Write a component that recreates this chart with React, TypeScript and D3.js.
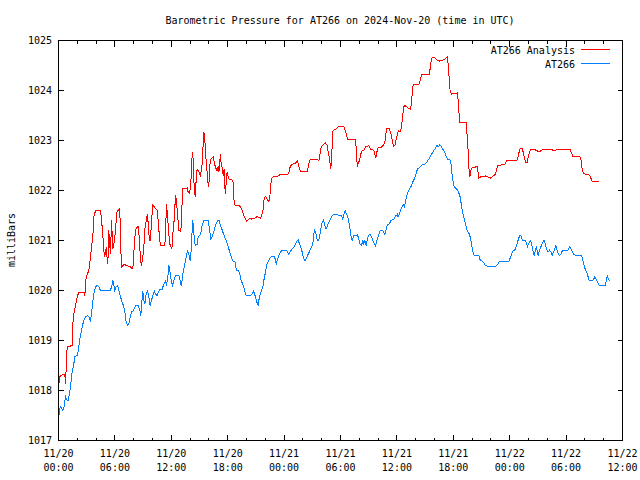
import React from "react";
import * as d3 from "d3";

// Hours after 2024-11-20 00:00 UTC
const analysisHours = [0,0.18,0.67,0.74,0.92,1.45,1.52,1.63,1.81,1.99,2.16,2.70,2.80,2.94,3.23,3.40,3.51,3.65,3.76,3.94,4.47,4.57,4.72,4.82,4.93,5.00,5.11,5.18,5.25,5.35,5.46,5.53,5.64,5.78,5.89,5.99,6.10,6.21,6.52,6.60,6.70,6.95,7.30,7.66,7.91,8.01,8.12,8.26,8.48,8.62,8.72,8.83,8.97,9.08,9.18,9.33,9.47,9.54,9.68,9.79,9.89,10.04,10.50,10.60,10.74,10.85,11.31,11.38,11.49,11.63,11.74,11.84,12.06,12.16,12.30,12.45,12.55,12.66,12.80,13.01,13.09,13.19,13.69,13.79,13.94,14.08,14.15,14.26,14.33,14.43,14.54,14.65,14.75,14.93,15.10,15.28,15.39,15.46,15.57,15.64,15.74,15.85,15.99,16.10,16.21,16.45,16.60,16.70,16.81,16.91,16.99,17.06,17.16,17.23,17.30,17.41,17.52,17.62,17.70,17.77,17.84,17.94,18.01,18.12,18.48,18.58,18.65,18.76,19.18,19.36,19.54,19.72,19.89,20.00,20.18,20.35,20.53,20.89,21.13,21.49,21.60,21.77,21.88,22.02,22.20,22.38,22.48,22.59,22.66,22.80,23.26,23.51,24.33,24.50,24.61,24.72,24.93,25.21,25.43,25.57,25.74,26.49,26.56,26.74,27.52,27.70,27.80,27.91,28.05,28.40,28.58,28.69,28.83,28.97,29.04,29.11,29.18,29.33,29.54,29.82,30.35,30.45,30.63,30.74,31.60,31.67,31.74,31.81,31.88,32.02,32.16,32.30,32.52,32.66,33.01,33.19,33.55,33.65,33.76,33.87,33.97,34.36,34.61,34.79,34.86,34.97,35.14,35.32,35.43,35.50,35.64,35.78,35.89,36.00,36.10,36.21,36.32,36.42,36.57,36.71,36.85,37.20,37.41,37.55,37.62,37.73,38.33,38.44,38.55,38.69,39.47,39.57,39.68,39.82,40.04,40.28,40.53,40.82,41.10,41.35,41.42,41.53,41.67,41.81,42.41,42.52,42.59,42.66,43.37,43.48,43.58,43.65,43.76,43.87,44.01,44.36,44.54,44.72,44.89,45.43,45.96,46.14,46.31,46.49,46.60,46.70,47.48,47.62,47.73,48.09,48.44,48.79,48.90,49.04,49.15,49.33,49.43,49.54,49.68,49.86,49.96,50.11,50.25,50.46,50.74,50.96,51.28,51.45,51.63,52.45,52.62,52.80,52.94,53.23,54.29,54.47,54.57,54.72,55.46,55.57,55.64,55.71,55.82,56.00,56.42,56.60,56.74,56.95,57.52];
const analysisValues = [1018.1,1018.3,1018.33,1018.13,1018.87,1018.9,1019.33,1019.53,1019.7,1019.87,1019.97,1019.97,1019.9,1020.27,1020.4,1020.67,1020.87,1021.07,1021.47,1021.6,1021.6,1021.43,1021.1,1020.8,1020.67,1020.8,1020.87,1020.6,1020.53,1021.2,1020.9,1020.73,1021.4,1020.83,1020.93,1021.07,1021.3,1021.57,1021.65,1021.0,1020.47,1020.52,1020.5,1020.47,1020.43,1020.73,1021.07,1021.25,1021.28,1021.0,1020.6,1020.5,1020.67,1020.87,1021.23,1021.4,1021.53,1021.33,1021.0,1021.0,1021.4,1021.7,1021.61,1021.4,1021.07,1020.9,1020.9,1021.13,1021.73,1021.4,1021.13,1020.93,1020.83,1021.13,1021.4,1021.9,1021.8,1021.53,1021.2,1021.18,1021.4,1022.03,1022.05,1021.97,1021.95,1022.13,1022.53,1022.77,1022.6,1022.07,1021.87,1022.23,1022.43,1022.37,1022.3,1022.53,1022.93,1023.17,1023.03,1022.67,1022.6,1022.2,1022.08,1022.5,1022.63,1022.67,1022.53,1022.47,1022.41,1022.4,1022.48,1022.37,1022.57,1022.73,1022.53,1022.47,1022.3,1022.43,1022.05,1021.93,1022.17,1022.37,1022.3,1022.23,1022.21,1022.17,1021.83,1021.71,1021.7,1021.67,1021.6,1021.5,1021.43,1021.38,1021.41,1021.45,1021.43,1021.45,1021.48,1021.45,1021.48,1021.63,1021.85,1021.88,1021.83,1021.77,1021.87,1022.12,1022.23,1022.27,1022.28,1022.31,1022.32,1022.35,1022.45,1022.5,1022.53,1022.55,1022.6,1022.48,1022.38,1022.38,1022.47,1022.61,1022.62,1022.6,1022.7,1022.85,1022.9,1022.95,1022.9,1022.77,1022.63,1022.43,1022.61,1022.87,1023.19,1023.21,1023.23,1023.28,1023.28,1023.23,1023.13,1023.03,1023.03,1022.83,1022.6,1022.47,1022.55,1022.6,1022.73,1022.8,1022.81,1022.87,1022.9,1022.83,1022.8,1022.72,1022.65,1022.77,1022.85,1022.87,1022.92,1023.03,1023.2,1023.25,1023.25,1023.17,1023.1,1023.0,1022.88,1022.9,1023.0,1023.08,1023.17,1023.2,1023.17,1023.2,1023.4,1023.67,1023.7,1023.65,1023.63,1023.73,1023.93,1024.12,1024.12,1024.17,1024.27,1024.33,1024.33,1024.5,1024.63,1024.67,1024.65,1024.61,1024.59,1024.6,1024.63,1024.67,1024.6,1024.33,1023.97,1023.93,1023.95,1023.8,1023.6,1023.37,1023.37,1023.07,1022.8,1022.47,1022.28,1022.4,1022.45,1022.47,1022.48,1022.25,1022.27,1022.29,1022.25,1022.27,1022.3,1022.33,1022.41,1022.5,1022.52,1022.57,1022.61,1022.6,1022.59,1022.61,1022.68,1022.8,1022.85,1022.85,1022.77,1022.67,1022.57,1022.57,1022.67,1022.77,1022.83,1022.83,1022.81,1022.79,1022.79,1022.81,1022.83,1022.83,1022.8,1022.79,1022.81,1022.83,1022.83,1022.81,1022.75,1022.68,1022.68,1022.63,1022.53,1022.43,1022.35,1022.33,1022.32,1022.27,1022.19,1022.18,1022.18];

const obsHours = [0,0.18,0.32,0.46,0.60,0.74,0.89,1.03,1.17,1.31,1.45,1.63,1.74,2.02,2.16,2.27,2.41,2.55,2.70,2.87,3.09,3.23,3.40,3.51,3.65,3.76,3.94,4.11,4.29,4.47,5.53,5.71,5.78,5.89,5.99,6.13,6.28,6.42,6.60,6.77,6.95,7.09,7.20,7.34,7.48,7.62,7.77,7.98,8.19,8.48,8.65,8.76,8.87,8.97,9.08,9.18,9.33,9.47,9.61,9.75,9.89,10.04,10.18,10.32,10.50,10.67,10.85,11.03,11.21,11.38,11.49,11.63,11.74,11.84,11.99,12.13,12.27,12.45,12.80,12.94,13.05,13.16,13.26,13.44,13.58,13.72,13.87,14.01,14.11,14.22,14.29,14.40,14.54,14.75,14.86,15.00,15.14,15.21,15.35,15.46,15.92,15.99,16.10,16.21,16.35,16.45,16.60,16.70,16.81,16.95,17.06,17.16,17.30,17.41,17.52,17.66,17.77,17.87,18.01,18.12,18.22,18.33,18.44,18.55,18.76,18.83,18.94,19.18,19.29,19.39,19.54,19.72,19.82,19.96,20.43,20.60,20.74,20.89,21.03,21.17,21.24,21.31,21.45,21.60,21.74,21.84,21.95,22.06,22.16,22.31,22.45,22.59,22.80,22.98,23.09,23.16,23.30,23.44,23.62,23.79,24.15,24.33,24.50,24.68,24.86,25.07,25.21,25.39,25.50,25.64,25.78,25.92,26.10,26.21,26.35,26.49,26.63,26.81,26.99,27.09,27.20,27.27,27.41,27.52,27.70,27.80,27.94,28.05,28.19,28.33,28.47,28.62,28.76,28.93,29.11,29.29,29.65,29.82,30.10,30.24,30.38,30.49,30.63,30.77,30.88,31.02,31.13,31.24,31.31,31.42,31.81,31.95,32.06,32.23,32.38,32.48,32.59,32.73,32.87,33.01,33.16,33.30,33.44,33.58,33.72,33.87,34.01,34.15,34.29,34.43,34.57,34.72,34.86,35.00,35.21,35.35,35.50,35.71,35.85,35.96,36.06,36.13,36.28,36.42,36.57,36.71,36.81,36.91,37.02,37.13,37.27,37.41,37.55,37.69,37.84,37.98,38.09,38.19,38.33,38.48,38.62,38.76,38.97,39.11,39.26,39.40,39.54,39.68,39.82,39.96,40.11,40.25,40.39,40.53,40.67,40.82,40.96,41.10,41.24,41.38,41.67,41.74,41.81,41.88,41.99,42.09,42.23,42.45,42.59,42.73,42.87,43.01,43.12,43.22,43.33,43.48,43.65,43.80,43.94,44.05,44.15,44.30,44.72,44.86,45.07,45.25,45.43,45.60,46.56,46.74,46.91,47.91,48.01,48.19,48.33,48.51,48.69,48.83,48.97,49.08,49.18,49.33,49.68,49.79,49.89,50.04,50.21,50.32,50.46,50.60,50.74,50.85,50.92,51.03,51.17,51.31,51.45,51.60,51.70,51.81,51.95,52.09,52.24,52.38,52.52,52.66,52.80,52.91,53.01,53.16,53.30,53.44,53.59,54.00,54.22,54.40,54.54,54.68,54.82,55.00,55.64,55.78,55.92,56.06,56.21,56.35,56.45,56.84,56.95,57.06,57.20,57.34,57.55,58.17,58.28,58.39,58.49,58.63];
const obsValues = [1017.43,1017.68,1017.65,1017.6,1017.67,1017.88,1017.81,1017.81,1017.93,1018.13,1018.37,1018.53,1018.68,1018.7,1018.87,1019.03,1019.17,1019.3,1019.4,1019.47,1019.5,1019.47,1019.4,1019.53,1019.77,1019.93,1020.07,1020.1,1020.07,1020.0,1020.0,1020.13,1020.2,1020.1,1020.0,1020.07,1020.1,1020.0,1019.87,1019.77,1019.67,1019.53,1019.37,1019.3,1019.32,1019.47,1019.57,1019.6,1019.7,1019.7,1019.61,1019.5,1019.77,1019.99,1019.8,1019.73,1019.93,1019.99,1019.87,1019.7,1019.8,1019.9,1019.99,1019.93,1019.9,1019.99,1020.03,1020.03,1020.13,1020.19,1020.1,1020.27,1020.5,1020.4,1020.2,1020.1,1020.2,1020.3,1020.3,1020.2,1020.1,1020.2,1020.37,1020.53,1020.67,1020.79,1020.73,1020.6,1020.8,1021.2,1021.41,1021.13,1020.9,1020.92,1021.07,1021.1,1021.13,1021.27,1021.33,1021.41,1021.41,1021.33,1021.17,1021.03,1021.07,1021.13,1021.23,1021.3,1021.35,1021.4,1021.41,1021.35,1021.27,1021.21,1021.15,1021.08,1021.03,1020.98,1020.9,1020.83,1020.77,1020.7,1020.63,1020.59,1020.59,1020.5,1020.4,1020.39,1020.33,1020.23,1020.15,1020.07,1019.98,1019.9,1019.9,1019.93,1019.99,1019.91,1019.81,1019.73,1019.71,1019.8,1019.93,1020.0,1020.07,1020.2,1020.3,1020.41,1020.52,1020.57,1020.63,1020.67,1020.69,1020.68,1020.6,1020.52,1020.63,1020.7,1020.77,1020.8,1020.8,1020.79,1020.72,1020.79,1020.83,1020.88,1020.92,1021.0,1021.01,1020.93,1020.87,1020.77,1020.63,1020.59,1020.63,1020.7,1020.75,1020.83,1020.9,1020.99,1021.17,1021.21,1021.12,1021.01,1021.01,1021.1,1021.27,1021.37,1021.41,1021.3,1021.23,1021.3,1021.37,1021.43,1021.5,1021.52,1021.52,1021.5,1021.5,1021.43,1021.53,1021.6,1021.53,1021.47,1021.37,1021.23,1021.07,1021.0,1021.03,1021.1,1021.11,1021.03,1020.93,1020.9,1021.0,1020.93,1021.0,1020.9,1021.03,1021.11,1021.12,1021.07,1021.0,1020.95,1020.9,1021.0,1021.08,1021.17,1021.21,1021.21,1021.17,1021.12,1021.23,1021.32,1021.33,1021.4,1021.41,1021.43,1021.49,1021.5,1021.53,1021.47,1021.53,1021.63,1021.68,1021.71,1021.67,1021.77,1021.87,1021.95,1022.01,1022.05,1022.1,1022.17,1022.23,1022.3,1022.37,1022.43,1022.45,1022.47,1022.5,1022.52,1022.52,1022.55,1022.59,1022.63,1022.68,1022.72,1022.77,1022.81,1022.85,1022.9,1022.87,1022.91,1022.9,1022.85,1022.8,1022.77,1022.68,1022.63,1022.61,1022.57,1022.43,1022.3,1022.17,1022.07,1022.05,1022.01,1021.95,1021.87,1021.7,1021.55,1021.47,1021.4,1021.3,1021.2,1021.15,1021.07,1020.93,1020.81,1020.72,1020.7,1020.7,1020.61,1020.59,1020.55,1020.5,1020.49,1020.49,1020.53,1020.59,1020.59,1020.63,1020.72,1020.79,1020.8,1020.87,1020.97,1021.05,1021.1,1021.1,1021.01,1021.0,1020.93,1020.88,1020.95,1021.0,1020.93,1020.81,1020.7,1020.81,1020.88,1020.8,1020.7,1020.8,1020.87,1020.93,1020.99,1021.0,1020.9,1020.81,1020.77,1020.81,1020.77,1020.7,1020.77,1020.83,1020.9,1020.83,1020.73,1020.7,1020.72,1020.79,1020.8,1020.81,1020.88,1020.83,1020.77,1020.72,1020.7,1020.7,1020.6,1020.5,1020.41,1020.35,1020.27,1020.2,1020.2,1020.23,1020.28,1020.23,1020.17,1020.1,1020.1,1020.2,1020.29,1020.23,1020.2];

const xTickHours = [0, 6, 12, 18, 24, 30, 36, 42, 48, 54, 60];
const xTickDates = ["11/20", "11/20", "11/20", "11/20", "11/21", "11/21", "11/21", "11/21", "11/22", "11/22", "11/22"];
const xTickTimes = ["00:00", "06:00", "12:00", "18:00", "00:00", "06:00", "12:00", "18:00", "00:00", "06:00", "12:00"];
const yTicks = [1017, 1018, 1019, 1020, 1021, 1022, 1023, 1024, 1025];
const seriesNames = ["AT266 Analysis", "AT266"];
const seriesColors = ["#ff0000", "#0080ff"];
const titleText = "Barometric Pressure for AT266 on 2024-Nov-20 (time in UTC)";
const yLabel = "milliBars";

export default function App() {
  const W = 640, H = 480;
  const L = 58.5, R = 622.5, T = 40.5, B = 440.5;
  const x = d3.scaleLinear().domain([0, 60]).range([L, R]);
  const y = d3.scaleLinear().domain([1017, 1025]).range([B, T]);
  const minorTicks = d3.range(0, 61, 2).filter((h) => h % 6 !== 0);
  const mk = (hs: number[], vs: number[]) =>
    d3.line<number>().x((_, i) => x(hs[i])).y((v) => y(v))(vs) || "";
  const font = "'DejaVu Sans Mono', 'Liberation Mono', monospace";
  const legendRows = seriesNames.map((name, i) => ({ name, color: seriesColors[i], ly: 49.5 + i * 14 }));
  return (
    <svg width={W} height={H} style={{ position: "absolute", left: 0, top: 0, background: "#fff" }}
      fontFamily={font} fontSize={10}>
      <rect x={0} y={0} width={W} height={H} fill="#fff" />
      <text x={340} y={24} textAnchor="middle">{titleText}</text>
      <g shapeRendering="crispEdges" stroke="#000" strokeWidth={1}>
        {yTicks.map((t) => (
          <g key={"y" + t}>
            <line x1={L} x2={L + 5} y1={Math.round(y(t) - 0.5) + 0.5} y2={Math.round(y(t) - 0.5) + 0.5} />
            <line x1={R} x2={R - 5} y1={Math.round(y(t) - 0.5) + 0.5} y2={Math.round(y(t) - 0.5) + 0.5} />
          </g>
        ))}
        {xTickHours.map((h) => {
          const px = Math.round(x(h) - 0.5) + 0.5;
          return (
            <g key={"x" + h}>
              <line x1={px} x2={px} y1={B} y2={B - 6} />
              <line x1={px} x2={px} y1={T} y2={T + 6} />
            </g>
          );
        })}
        {minorTicks.map((h) => {
          const px = Math.round(x(h) - 0.5) + 0.5;
          return (
            <g key={"m" + h}>
              <line x1={px} x2={px} y1={B} y2={B - 3} />
              <line x1={px} x2={px} y1={T} y2={T + 3} />
            </g>
          );
        })}
      </g>
      {yTicks.map((t) => (
        <text key={"yl" + t} x={52} y={y(t) + 3.5} textAnchor="end">{t}</text>
      ))}
      {xTickHours.map((h, i) => (
        <g key={"xl" + h}>
          <text x={x(h)} y={457} textAnchor="middle">{xTickDates[i]}</text>
          <text x={x(h)} y={471} textAnchor="middle">{xTickTimes[i]}</text>
        </g>
      ))}
      <text transform="translate(15,240) rotate(-90)" textAnchor="middle">{yLabel}</text>
      <g fill="none" strokeWidth={1} shapeRendering="crispEdges">
        <path d={mk(analysisHours, analysisValues)} stroke={seriesColors[0]} />
        <path d={mk(obsHours, obsValues)} stroke={seriesColors[1]} />
      </g>
      {legendRows.map((r) => (
        <text key={"lt" + r.name} x={575} y={r.ly + 4} textAnchor="end">{r.name}</text>
      ))}
      {legendRows.map((r) => (
        <path key={"ll" + r.name} d={`M581,${r.ly}H610`} stroke={r.color} strokeWidth={1} fill="none" shapeRendering="crispEdges" />
      ))}
      <rect x={L} y={T} width={R - L} height={B - T} fill="none" stroke="#000" shapeRendering="crispEdges" />
    </svg>
  );
}
